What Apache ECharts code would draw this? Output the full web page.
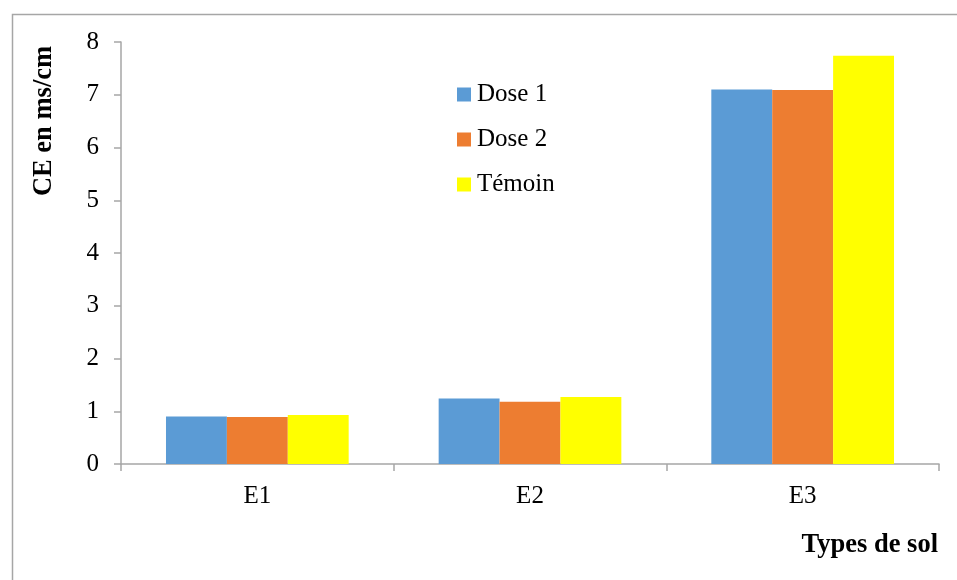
<!DOCTYPE html>
<html>
<head>
<meta charset="utf-8">
<script src="https://cdn.jsdelivr.net/npm/echarts@6/dist/echarts.min.js"></script>
<style>
  html, body { margin: 0; padding: 0; background: #ffffff; }
  #chart { width: 957px; height: 580px; }
</style>
</head>
<body>
<div id="chart"></div>
<script>
// Soil types and measured electrical conductivity (mS/cm)
const categories = ['E1', 'E2', 'E3'];
const seriesNames = ['Dose 1', 'Dose 2', 'Témoin'];
const dose1 = [0.90, 1.24, 7.10];
const dose2 = [0.89, 1.18, 7.09];
const temoin = [0.93, 1.27, 7.74];
const yTicks = [0, 1, 2, 3, 4, 5, 6, 7, 8];

const colors = ['#5b9bd5', '#ed7d31', '#ffff00'];
const FONT = '"Liberation Serif", "Times New Roman", serif';

const chart = echarts.init(document.getElementById('chart'), null, { renderer: 'canvas' });

const values = [dose1, dose2, temoin];

chart.setOption({
  backgroundColor: '#ffffff',
  animation: false,
  color: colors,
  grid: { left: 121, right: 18, top: 42, bottom: 116 },
  legend: {
    orient: 'vertical',
    left: 457,
    top: 82,
    padding: 0,
    itemWidth: 14,
    itemHeight: 14,
    itemGap: 20,
    icon: 'rect',
    textStyle: { fontFamily: FONT, fontSize: 25, color: '#000', padding: [0, 0, 0, 1] },
    data: seriesNames
  },
  xAxis: {
    type: 'category',
    data: categories,
    axisLine: { lineStyle: { color: '#a6a6a6', width: 1.5 } },
    axisTick: { show: true, length: 7, lineStyle: { color: '#a6a6a6', width: 1.5 } },
    axisLabel: { fontFamily: FONT, fontSize: 25, color: '#000', margin: 20 },
    splitLine: { show: false }
  },
  yAxis: {
    type: 'value',
    min: yTicks[0],
    max: yTicks[yTicks.length - 1],
    interval: 1,
    axisLine: { show: true, lineStyle: { color: '#a6a6a6', width: 1.5 } },
    axisTick: { show: true, length: 7, lineStyle: { color: '#a6a6a6', width: 1.5 } },
    axisLabel: { fontFamily: FONT, fontSize: 25, color: '#000', margin: 22 },
    splitLine: { show: false }
  },
  series: seriesNames.map((name, i) => ({
    name: name,
    type: 'bar',
    data: values[i],
    barGap: '0%',
    barCategoryGap: '33%',
    itemStyle: { color: colors[i] }
  })),
  graphic: [
    {
      type: 'rect',
      left: 10, top: 12,
      shape: { width: 1000, height: 640 },
      style: { fill: 'none', stroke: '#a6a6a6', lineWidth: 1.5 },
      silent: true, z: -1
    },
    {
      type: 'text',
      x: 44, y: 121,
      rotation: Math.PI / 2,
      style: {
        text: 'CE en ms/cm',
        font: 'bold 26.5px ' + FONT,
        fill: '#000',
        align: 'center',
        verticalAlign: 'middle'
      }
    },
    {
      type: 'text',
      x: 938, y: 545,
      style: {
        text: 'Types de sol',
        font: 'bold 26.5px ' + FONT,
        fill: '#000',
        align: 'right',
        verticalAlign: 'middle'
      }
    }
  ]
});
</script>
</body>
</html>
